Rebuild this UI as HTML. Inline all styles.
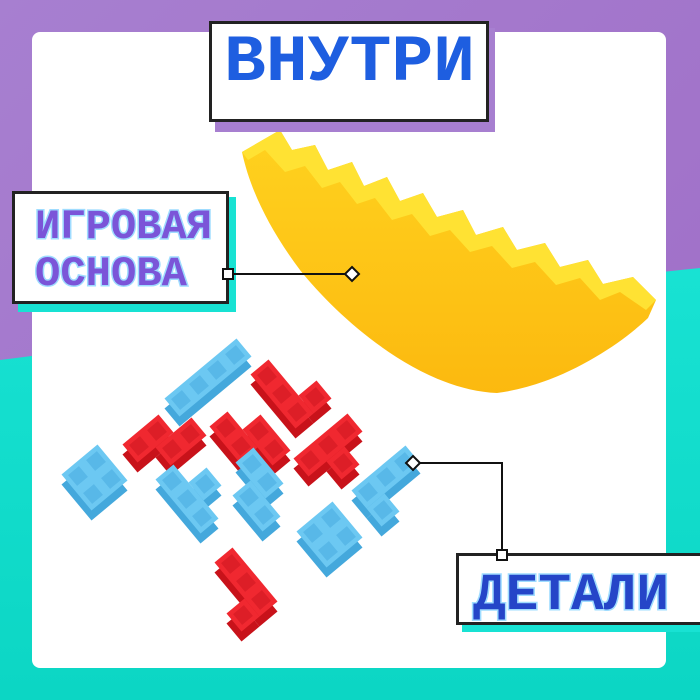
<!DOCTYPE html>
<html><head><meta charset="utf-8"><style>html,body{margin:0;padding:0;width:700px;height:700px;overflow:hidden;background:#fff}</style></head>
<body>
<svg width="700" height="700" viewBox="0 0 700 700" xmlns="http://www.w3.org/2000/svg">
<defs>
<linearGradient id="pg" x1="0" y1="0" x2="1" y2="1"><stop offset="0" stop-color="#a77fd0"/><stop offset="1" stop-color="#9e6cc6"/></linearGradient>
<linearGradient id="tg" x1="0" y1="0" x2="0" y2="1"><stop offset="0" stop-color="#18e2d3"/><stop offset="1" stop-color="#0cd6c4"/></linearGradient>
<linearGradient id="yg" x1="0" y1="0" x2="0" y2="1"><stop offset="0" stop-color="#ffd21f"/><stop offset="1" stop-color="#fcb90f"/></linearGradient>
</defs>
<rect width="700" height="700" fill="url(#pg)"/>
<path d="M0,360 C200,335 480,290 700,268 L700,700 L0,700 Z" fill="url(#tg)"/>
<rect x="32" y="32" width="634" height="636" rx="8" fill="#fff"/>

<path d="M242,152 L280,130 L292,150 L315,145 L328,170 L352,162 L364,186 L387,177 L400,201 L423,193 L437,217 L463,210 L476,235 L503,227 L517,250 L545,243 L560,267 L588,260 L603,284 L633,277 L656,300 L648,318 C620,345 560,385 497,393 C420,390 340,320 300,270 C270,230 250,190 242,152 Z" fill="url(#yg)"/>
<path d="M280,130 L292,150 L315,145 L328,170 L352,162 L364,186 L387,177 L400,201 L423,193 L437,217 L463,210 L476,235 L503,227 L517,250 L545,243 L560,267 L588,260 L603,284 L633,277 L656,300 L646,310 L620,292 L600,300 L580,278 L556,285 L535,262 L512,268 L492,246 L470,252 L450,230 L430,236 L412,214 L392,220 L375,198 L357,204 L340,182 L322,188 L305,166 L285,172 L265,150 L248,160 L242,152 Z" fill="#ffe233"/>

<g>
<g transform="translate(0,10) matrix(18,-15,15,18,139,446)" fill="#c8121a"><rect x="-.5" y="-.5" width="2" height="1"/><rect x=".5" y=".5" width="2" height="1"/></g>
<g transform="matrix(18,-15,15,18,139,446)"><g fill="#f02830"><rect x="-.5" y="-.5" width="2" height="1"/><rect x=".5" y=".5" width="2" height="1"/></g><g fill="#dd1e27"><rect x="-.3" y="-.3" width=".6" height=".6"/><rect x=".7" y="-.3" width=".6" height=".6"/><rect x=".7" y=".7" width=".6" height=".6"/><rect x="1.7" y=".7" width=".6" height=".6"/></g></g>

<g transform="translate(0,10) matrix(18,-15,15,18,267,376)" fill="#c8121a"><rect x="-.5" y="-.5" width="1" height="3"/><rect x=".5" y="1.5" width="1" height="1"/></g>
<g transform="matrix(18,-15,15,18,267,376)"><g fill="#f02830"><rect x="-.5" y="-.5" width="1" height="3"/><rect x=".5" y="1.5" width="1" height="1"/></g><g fill="#dd1e27"><rect x="-.3" y="-.3" width=".6" height=".6"/><rect x="-.3" y=".7" width=".6" height=".6"/><rect x="-.3" y="1.7" width=".6" height=".6"/><rect x=".7" y="1.7" width=".6" height=".6"/></g></g>

<g transform="translate(0,10) matrix(18,-15,15,18,226,428)" fill="#c8121a"><rect x="-.5" y="-.5" width="1" height="2"/><rect x=".5" y=".5" width="1" height="2"/></g>
<g transform="matrix(18,-15,15,18,226,428)"><g fill="#f02830"><rect x="-.5" y="-.5" width="1" height="2"/><rect x=".5" y=".5" width="1" height="2"/></g><g fill="#dd1e27"><rect x="-.3" y="-.3" width=".6" height=".6"/><rect x="-.3" y=".7" width=".6" height=".6"/><rect x=".7" y=".7" width=".6" height=".6"/><rect x=".7" y="1.7" width=".6" height=".6"/></g></g>

<g transform="translate(0,10) matrix(18,-15,15,18,310,460)" fill="#c8121a"><rect x="-.5" y="-.5" width="3" height="1"/><rect x=".5" y=".5" width="1" height="1"/></g>
<g transform="matrix(18,-15,15,18,310,460)"><g fill="#f02830"><rect x="-.5" y="-.5" width="3" height="1"/><rect x=".5" y=".5" width="1" height="1"/></g><g fill="#dd1e27"><rect x="-.3" y="-.3" width=".6" height=".6"/><rect x=".7" y="-.3" width=".6" height=".6"/><rect x="1.7" y="-.3" width=".6" height=".6"/><rect x=".7" y=".7" width=".6" height=".6"/></g></g>

<g transform="translate(0,10) matrix(18,-15,15,18,231,564)" fill="#c8121a"><rect x="-.5" y="-.5" width="1" height="3"/><rect x="-1.5" y="1.5" width="1" height="1"/></g>
<g transform="matrix(18,-15,15,18,231,564)"><g fill="#f02830"><rect x="-.5" y="-.5" width="1" height="3"/><rect x="-1.5" y="1.5" width="1" height="1"/></g><g fill="#dd1e27"><rect x="-.3" y="-.3" width=".6" height=".6"/><rect x="-.3" y=".7" width=".6" height=".6"/><rect x="-.3" y="1.7" width=".6" height=".6"/><rect x="-1.3" y="1.7" width=".6" height=".6"/></g></g>

<g transform="translate(0,10) matrix(18,-15,15,18,181,400)" fill="#44a8dc"><rect x="-.5" y="-.5" width="4" height="1"/></g>
<g transform="matrix(18,-15,15,18,181,400)"><rect x="-.5" y="-.5" width="4" height="1" fill="#6cc8f2"/><g fill="#58b8e8"><rect x="-.3" y="-.3" width=".6" height=".6"/><rect x=".7" y="-.3" width=".6" height=".6"/><rect x="1.7" y="-.3" width=".6" height=".6"/><rect x="2.7" y="-.3" width=".6" height=".6"/></g></g>

<g transform="translate(0,10) matrix(18,-15,15,18,78,476)" fill="#44a8dc"><rect x="-.5" y="-.5" width="2" height="2"/></g>
<g transform="matrix(18,-15,15,18,78,476)"><rect x="-.5" y="-.5" width="2" height="2" fill="#6cc8f2"/><g fill="#58b8e8"><rect x="-.3" y="-.3" width=".6" height=".6"/><rect x=".7" y="-.3" width=".6" height=".6"/><rect x="-.3" y=".7" width=".6" height=".6"/><rect x=".7" y=".7" width=".6" height=".6"/></g></g>

<g transform="translate(0,10) matrix(18,-15,15,18,313,533)" fill="#44a8dc"><rect x="-.5" y="-.5" width="2" height="2"/></g>
<g transform="matrix(18,-15,15,18,313,533)"><rect x="-.5" y="-.5" width="2" height="2" fill="#6cc8f2"/><g fill="#58b8e8"><rect x="-.3" y="-.3" width=".6" height=".6"/><rect x=".7" y="-.3" width=".6" height=".6"/><rect x="-.3" y=".7" width=".6" height=".6"/><rect x=".7" y=".7" width=".6" height=".6"/></g></g>

<g transform="translate(0,10) matrix(18,-15,15,18,172,481)" fill="#44a8dc"><rect x="-.5" y="-.5" width="1" height="3"/><rect x=".5" y=".5" width="1" height="1"/></g>
<g transform="matrix(18,-15,15,18,172,481)"><g fill="#6cc8f2"><rect x="-.5" y="-.5" width="1" height="3"/><rect x=".5" y=".5" width="1" height="1"/></g><g fill="#58b8e8"><rect x="-.3" y="-.3" width=".6" height=".6"/><rect x="-.3" y=".7" width=".6" height=".6"/><rect x="-.3" y="1.7" width=".6" height=".6"/><rect x=".7" y=".7" width=".6" height=".6"/></g></g>

<g transform="translate(0,10) matrix(18,-15,15,18,252,464)" fill="#44a8dc"><rect x="-.5" y="-.5" width="1" height="2"/><rect x="-1.5" y=".5" width="1" height="2"/></g>
<g transform="matrix(18,-15,15,18,252,464)"><g fill="#6cc8f2"><rect x="-.5" y="-.5" width="1" height="2"/><rect x="-1.5" y=".5" width="1" height="2"/></g><g fill="#58b8e8"><rect x="-.3" y="-.3" width=".6" height=".6"/><rect x="-.3" y=".7" width=".6" height=".6"/><rect x="-1.3" y=".7" width=".6" height=".6"/><rect x="-1.3" y="1.7" width=".6" height=".6"/></g></g>

<g transform="translate(0,10) matrix(18,-15,15,18,368,492)" fill="#44a8dc"><rect x="-.5" y="-.5" width="3" height="1"/><rect x="-.5" y=".5" width="1" height="1"/></g>
<g transform="matrix(18,-15,15,18,368,492)"><g fill="#6cc8f2"><rect x="-.5" y="-.5" width="3" height="1"/><rect x="-.5" y=".5" width="1" height="1"/></g><g fill="#58b8e8"><rect x="-.3" y="-.3" width=".6" height=".6"/><rect x=".7" y="-.3" width=".6" height=".6"/><rect x="1.7" y="-.3" width=".6" height=".6"/><rect x="-.3" y=".7" width=".6" height=".6"/></g></g>
</g>

<rect x="215" y="28" width="280" height="104" fill="#a77fd0"/>
<rect x="210.5" y="22.5" width="277" height="98" fill="#fff" stroke="#222" stroke-width="3"/>
<text x="224" y="80" font-family="Liberation Mono, monospace" font-weight="bold" font-size="66" textLength="251" lengthAdjust="spacingAndGlyphs" fill="#1e5ee0">ВНУТРИ</text>

<rect x="18" y="197" width="218" height="115" fill="#18e2d3"/>
<rect x="13.5" y="192.5" width="214" height="110" fill="#fff" stroke="#222" stroke-width="3"/>
<g font-family="Liberation Mono, monospace" font-weight="bold" fill="#7b55d8" stroke="#9fdcff" stroke-width="3" paint-order="stroke">
<text x="35" y="238" font-size="42" textLength="177" lengthAdjust="spacingAndGlyphs">ИГРОВАЯ</text>
<text x="35" y="285" font-size="42" textLength="152" lengthAdjust="spacingAndGlyphs">ОСНОВА</text>
</g>
<line x1="228" y1="274" x2="352" y2="274" stroke="#111" stroke-width="2"/>
<rect x="223" y="269" width="10" height="10" fill="#fff" stroke="#111" stroke-width="2"/>
<path d="M352,267 L359,274 L352,281 L345,274 Z" fill="#fff" stroke="#111" stroke-width="2"/>

<rect x="462" y="560" width="238" height="72" fill="#18e2d3"/>
<rect x="457.5" y="554.5" width="250" height="69" fill="#fff" stroke="#222" stroke-width="3"/>
<text x="473" y="609" font-family="Liberation Mono, monospace" font-weight="bold" font-size="52" textLength="196" lengthAdjust="spacingAndGlyphs" fill="#2545c8" stroke="#9fdcff" stroke-width="3" paint-order="stroke">ДЕТАЛИ</text>
<polyline points="413,463 502,463 502,555" fill="none" stroke="#111" stroke-width="2"/>
<rect x="497" y="550" width="10" height="10" fill="#fff" stroke="#111" stroke-width="2"/>
<path d="M413,456 L420,463 L413,470 L406,463 Z" fill="#fff" stroke="#111" stroke-width="2"/>
</svg>
</body></html>
